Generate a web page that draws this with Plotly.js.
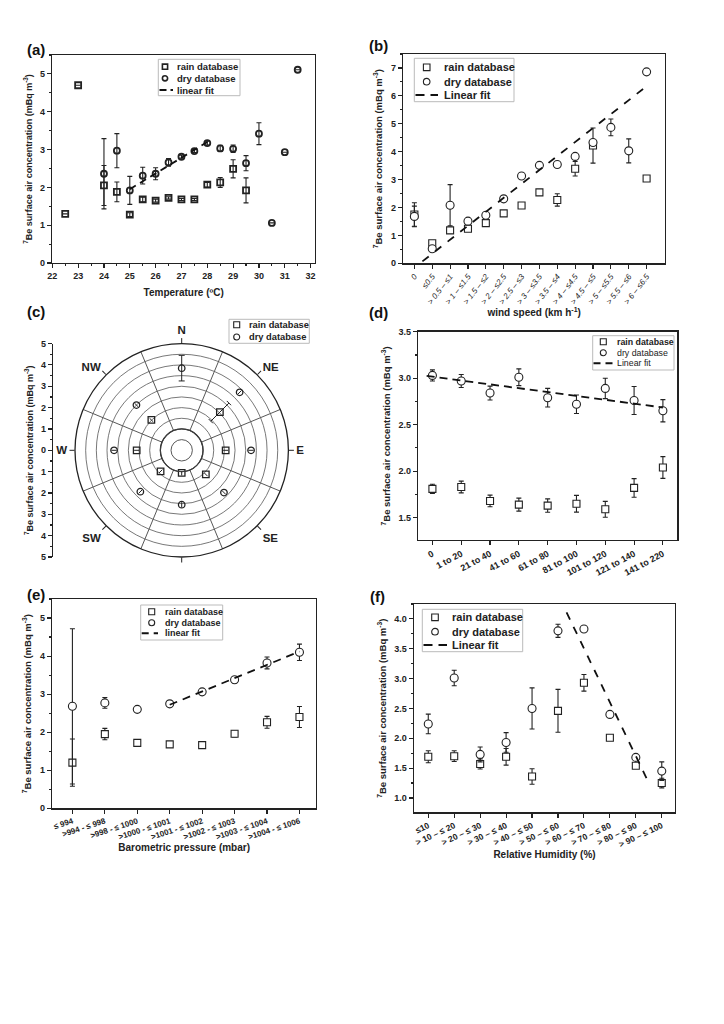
<!DOCTYPE html>
<html><head><meta charset="utf-8">
<script src="https://cdn.plot.ly/plotly-3.0.1.min.js"></script>
<style>body{margin:0;background:#fff}#chart{width:724px;height:1024px}</style>
</head><body><div id="chart"></div>
<script>
// ---------- DATA ----------
// (a) Temperature
const tempA = [22.5,23,24,24.5,25,25.5,26,26.5,27,27.5,28,28.5,29,29.5,30,30.5,31,31.5];
const rainA = [1.30,4.70,2.05,1.88,1.28,1.68,1.65,1.72,1.68,1.68,2.07,2.13,2.49,1.92,null,null,null,null];
const rainAErr = [0,0,0.53,0.26,0.05,0.06,0.04,0.03,0.03,0.03,0.06,0.13,0.24,0.33,0,0,0,0];
const dryA = [null,null,2.36,2.97,1.92,2.31,2.36,2.66,2.81,2.96,3.17,3.03,3.02,2.64,3.42,1.06,2.93,5.11];
const dryAErr = [0,0,0.93,0.45,0.37,0.22,0.16,0.1,0.04,0.04,0.05,0.08,0.1,0.2,0.29,0,0,0];
const fitAX = [25,28];
const fitAY = [1.95,3.20];

// (b) Wind speed
const windCats = ["0","≤0.5","> 0.5 – ≤1","> 1 – ≤1.5","> 1.5 – ≤2","> 2 – ≤2.5","> 2.5 – ≤3","> 3 – ≤3.5","> 3.5 – ≤4","> 4 – ≤4.5","> 4.5 – ≤5","> 5 – ≤5.5","> 5.5 – ≤6","> 6 – ≤6.5"];
const rainB = [1.75,0.72,1.18,1.24,1.44,1.79,2.07,2.54,2.27,3.39,4.22,null,null,3.04];
const rainBErr = [0.42,0.05,0.1,0.04,0.05,0.04,0.04,0.06,0.22,0.26,0.63,0,0,0.04];
const dryB = [1.68,0.52,2.08,1.51,1.72,2.31,3.13,3.51,3.54,3.83,4.33,4.87,4.03,6.86];
const dryBErr = [0.37,0.04,0.74,0.04,0.05,0.05,0.05,0.05,0.04,0.05,0.05,0.3,0.43,0.05];
const fitBX = [0.45,13.15];
const fitBY = [0.07,6.42];

// (c) Wind direction
const dirLabels = ["N","NE","E","SE","","SW","W","NW"];
const dirAngles = [0,45,90,135,180,225,270,315];
const sectorEdges = [22.5,67.5,112.5,157.5,202.5,247.5,292.5,337.5];
const rainC = [null,2.53,2.06,1.60,1.06,1.40,2.11,2.01];
const rainCErr = [0,0.6,0.12,0.12,0.12,0.12,0.12,0.12];
const dryC = [3.85,3.84,3.25,2.80,2.55,2.74,3.17,3.00];
const dryCErr = [0.6,0.12,0.12,0.12,0.12,0.12,0.12,0.12];
const radialTicks = [-5,-4,-3,-2,-1,0,1,2,3,4,5];

// (d) Distance classes
const distCats = ["0","1 to 20","21 to 40","41 to 60","61 to 80","81 to 100","101 to 120","121 to 140","141 to 220"];
const rainD = [1.81,1.83,1.68,1.64,1.63,1.65,1.59,1.82,2.04];
const rainDErr = [0.05,0.063,0.063,0.07,0.072,0.09,0.085,0.1,0.117];
const dryD = [3.03,2.97,2.84,3.01,2.79,2.72,2.89,2.76,2.65];
const dryDErr = [0.06,0.07,0.075,0.09,0.1,0.1,0.11,0.15,0.12];
const fitDX = [-0.2,8.0];
const fitDY = [3.025,2.685];

// (e) Barometric pressure
const pressCats = ["≤ 994",">994 - ≤ 998",">998 - ≤ 1000",">1000 - ≤ 1001",">1001 - ≤ 1002",">1002 - ≤ 1003",">1003 - ≤ 1004",">1004 - ≤ 1006"];
const rainE = [1.20,1.95,1.72,1.68,1.66,1.96,2.26,2.40];
const rainEErr = [0.62,0.15,0.04,0.04,0.03,0.085,0.155,0.275];
const dryE = [2.68,2.77,2.60,2.745,3.06,3.38,3.82,4.10];
const dryEErr = [2.04,0.14,0.04,0.04,0.04,0.085,0.155,0.215];
const fitEX = [3,7];
const fitEY = [2.72,4.12];

// (f) Relative humidity
const humCats = ["≤10","> 10 – ≤ 20","> 20 – ≤ 30","> 30 – ≤ 40","> 40 – ≤ 50","> 50 – ≤ 60","> 60 – ≤ 70","> 70 – ≤ 80","> 80 – ≤ 90","> 90 – ≤ 100"];
const rainF = [1.69,1.70,1.57,1.69,1.36,2.46,2.93,2.01,1.54,1.25];
const rainFErr = [0.1,0.09,0.085,0.14,0.13,0.36,0.14,0.03,0.03,0.08];
const dryF = [2.24,3.01,1.73,1.93,2.50,3.80,3.83,2.40,1.68,1.45];
const dryFErr = [0.165,0.13,0.125,0.165,0.345,0.11,0.02,0.02,0.03,0.155];
const fitFX = [5.33,8.48];
const fitFY = [4.11,1.27];

// ---------- HELPERS ----------
const FONT = 'Liberation Sans, Arial, sans-serif';
const INK = '#222';
const W = 724, H = 1024;
const px = x => x / W;
const py = y => 1 - y / H;
const domX = (a, b) => [a / W, b / W];
const domY = (top, bottom) => [1 - bottom / H, 1 - top / H];
const idx = arr => arr.map((_, i) => i);
const YT = '<sup>7</sup>Be surface air concentration (mBq m<sup>-3</sup>)';

function ax(extra) {
  return Object.assign({
    showline: true, linecolor: INK, linewidth: 1.4, mirror: true,
    ticks: 'outside', ticklen: 4, tickwidth: 1.1, tickcolor: INK,
    showgrid: false, zeroline: false,
    tickfont: {family: FONT, size: 9, color: INK, weight: 'bold'}
  }, extra);
}
function ttl(text, size, standoff) {
  return {text: text, font: {family: FONT, size: size, color: INK, weight: 'bold'}, standoff: standoff};
}
function pts(x, y, err, sym, size, xa, ya, lw, name, fill) {
  return {
    type: 'scatter', mode: 'markers', x: x, y: y, xaxis: xa, yaxis: ya, name: name, showlegend: false,
    marker: {symbol: sym, size: size, color: fill, line: {color: INK, width: lw}},
    error_y: {type: 'data', array: err, visible: true, thickness: 1.1, width: 2.5, color: INK},
    cliponaxis: false
  };
}
function fit(x, y, xa, ya, w, dash) {
  return {type: 'scatter', mode: 'lines', x: x, y: y, xaxis: xa, yaxis: ya, showlegend: false, name: 'linear fit',
    line: {color: '#111', width: w, dash: dash}};
}

// manual legends
const shapes = [], annotations = [];
function legend(spec) {
  const b = spec.box;
  shapes.push({type: 'rect', xref: 'paper', yref: 'paper', x0: px(b[0]), x1: px(b[2]), y0: py(b[3]), y1: py(b[1]),
    line: {color: '#bbb', width: 1}, fillcolor: 'rgba(255,255,255,0.9)', layer: 'above'});
  spec.rows.forEach(r => {
    const s = spec.half;
    if (r.kind === 'square' || r.kind === 'circle') {
      shapes.push({type: r.kind === 'square' ? 'rect' : 'circle', xref: 'paper', yref: 'paper',
        x0: px(spec.symX - s), x1: px(spec.symX + s), y0: py(r.y + s), y1: py(r.y - s),
        line: {color: INK, width: spec.lw}, fillcolor: '#fff', layer: 'above'});
    } else {
      shapes.push({type: 'line', xref: 'paper', yref: 'paper', x0: px(spec.dash[0]), x1: px(spec.dash[1]), y0: py(r.y), y1: py(r.y),
        line: {color: '#111', width: 2, dash: spec.dashPat}, layer: 'above'});
    }
    annotations.push({xref: 'paper', yref: 'paper', x: px(spec.textX), y: py(r.y), xanchor: 'left', yanchor: 'middle',
      showarrow: false, text: r.text,
      font: {family: FONT, size: spec.size, color: INK, weight: r.bold === false ? 'normal' : 'bold'}});
  });
}
function panelLabel(t, x, y) {
  annotations.push({xref: 'paper', yref: 'paper', x: px(x), y: py(y), xanchor: 'center', yanchor: 'middle',
    showarrow: false, text: t, font: {family: FONT, size: 15, color: '#111', weight: 'bold'}});
}

// polar error segments (radial bars with perpendicular caps)
const RPX = 106.7, PXU = RPX / 5;
function radialBars(vals, errs, thetas, capPx) {
  const r = [], t = [];
  vals.forEach((v, i) => {
    const e = errs[i];
    if (v == null || !e) return;
    const th = thetas[i];
    r.push(v - e, v + e, null); t.push(th, th, null);
    if (e > 0.3) {
      [v - e, v + e].forEach(re => {
        const w = capPx / PXU;
        const d = Math.atan(w / re) * 180 / Math.PI;
        const rr = Math.sqrt(re * re + w * w);
        r.push(rr, rr, null); t.push(th - d, th + d, null);
      });
    }
  });
  return {r: r, t: t};
}

// ---------- TRACES ----------
const traces = [];
// (a)
traces.push(pts(tempA, rainA, rainAErr, 'square-open', 6, 'x', 'y', 1.8, 'rain database', INK));
traces.push(pts(tempA, dryA, dryAErr, 'circle-open', 6, 'x', 'y', 1.8, 'dry database', INK));
traces.push(fit(fitAX, fitAY, 'x', 'y', 1.8, '7px,5px'));
// (b)
traces.push(pts(idx(windCats), rainB, rainBErr, 'square', 7, 'x2', 'y2', 1.1, 'rain database', '#fff'));
traces.push(pts(idx(windCats), dryB, dryBErr, 'circle', 8, 'x2', 'y2', 1.1, 'dry database', '#fff'));
traces.push(fit(fitBX, fitBY, 'x2', 'y2', 1.8, '8px,8px'));
// (d)
traces.push(pts(idx(distCats), rainD, rainDErr, 'square', 7, 'x3', 'y3', 1.1, 'rain database', '#fff'));
traces.push(pts(idx(distCats), dryD, dryDErr, 'circle', 8, 'x3', 'y3', 1.1, 'dry database', '#fff'));
traces.push(fit(fitDX, fitDY, 'x3', 'y3', 1.8, '8px,5px'));
// (e)
traces.push(pts(idx(pressCats), rainE, rainEErr, 'square', 7, 'x4', 'y4', 1.1, 'rain database', '#fff'));
traces.push(pts(idx(pressCats), dryE, dryEErr, 'circle', 8, 'x4', 'y4', 1.1, 'dry database', '#fff'));
traces.push(fit(fitEX, fitEY, 'x4', 'y4', 1.8, '8px,6px'));
// (f)
traces.push(pts(idx(humCats), rainF, rainFErr, 'square', 7, 'x5', 'y5', 1.1, 'rain database', '#fff'));
traces.push(pts(idx(humCats), dryF, dryFErr, 'circle', 8, 'x5', 'y5', 1.1, 'dry database', '#fff'));
traces.push(fit(fitFX, fitFY, 'x5', 'y5', 1.8, '8px,8px'));
// (c) left radial scale helper (invisible point)
traces.push({type: 'scatter', mode: 'markers', x: [0], y: [0], xaxis: 'x6', yaxis: 'y6', showlegend: false,
  marker: {opacity: 0}, hoverinfo: 'skip'});
// (c) polar grid subplot (invisible anchor point so the grid polar is drawn)
traces.push({type: 'scatterpolar', subplot: 'polar', mode: 'markers', r: [3], theta: [0], marker: {opacity: 0},
  showlegend: false, hoverinfo: 'skip'});
const rb = radialBars(rainC, rainCErr, dirAngles, 3);
const db = radialBars(dryC, dryCErr, dirAngles, 3);
traces.push({type: 'scatterpolar', subplot: 'polar2', mode: 'lines', r: rb.r.concat([null], db.r), theta: rb.t.concat([null], db.t),
  line: {color: INK, width: 1}, showlegend: false, connectgaps: false, cliponaxis: false, hoverinfo: 'skip'});
traces.push({type: 'scatterpolar', subplot: 'polar2', mode: 'markers', r: rainC, theta: dirAngles, name: 'rain database',
  marker: {symbol: 'square-open', size: 6.5, color: INK, line: {color: INK, width: 1.3}}, showlegend: false, cliponaxis: false});
traces.push({type: 'scatterpolar', subplot: 'polar2', mode: 'markers', r: dryC, theta: dirAngles, name: 'dry database',
  marker: {symbol: 'circle-open', size: 6.5, color: INK, line: {color: INK, width: 1.3}}, showlegend: false, cliponaxis: false});

// ---------- LAYOUT ----------
const polarDomX = domX(75, 288.4), polarDomY = domY(343.6, 557.0);
const layout = {
  width: W, height: H, margin: {l: 0, r: 0, t: 0, b: 0}, paper_bgcolor: '#fff', plot_bgcolor: '#fff',
  showlegend: false, font: {family: FONT, color: INK},
  // (a)
  xaxis: ax({domain: domX(52.3, 315), range: [22, 32.17], dtick: 1, anchor: 'y',
    minor: {ticks: 'outside', ticklen: 2, dtick: 0.5, tickcolor: INK}, title: ttl('Temperature (ºC)', 10, 8)}),
  yaxis: ax({domain: domY(55, 263), range: [0, 5.5], dtick: 1, anchor: 'x',
    minor: {ticks: 'outside', ticklen: 2, dtick: 0.5, tickcolor: INK}, title: ttl(YT, 9, 6)}),
  // (b)
  xaxis2: ax({domain: domX(403.3, 665), range: [-0.62, 14.03], tickmode: 'array', tickvals: idx(windCats), ticktext: windCats,
    tickangle: -52, anchor: 'y2', tickfont: {family: FONT, size: 8, color: INK, style: 'italic'},
    title: ttl('wind speed (km h<sup>-1</sup>)', 10, 2)}),
  yaxis2: ax({domain: domY(54, 263.3), range: [0, 7.5], dtick: 1, anchor: 'x2',
    minor: {ticks: 'outside', ticklen: 2, dtick: 0.5, tickcolor: INK}, title: ttl(YT, 9.5, 6)}),
  // (d)
  xaxis3: ax({domain: domX(418.3, 677.3), range: [-0.49, 8.5], tickmode: 'array', tickvals: idx(distCats), ticktext: distCats,
    tickangle: -28, anchor: 'y3'}),
  yaxis3: ax({domain: domY(331.7, 540), range: [1.26, 3.5], dtick: 0.5, tickformat: '.1f', anchor: 'x3',
    minor: {ticks: 'outside', ticklen: 2, dtick: 0.25, tickcolor: INK}, title: ttl(YT, 9.5, 6)}),
  // (e)
  xaxis4: ax({domain: domX(52.3, 316), range: [-0.62, 7.51], tickmode: 'array', tickvals: idx(pressCats), ticktext: pressCats,
    tickangle: -18, anchor: 'y4', tickfont: {family: FONT, size: 8, color: INK, weight: 'bold'},
    title: ttl('Barometric pressure (mbar)', 10, 2)}),
  yaxis4: ax({domain: domY(599, 808.3), range: [0, 5.5], dtick: 1, anchor: 'x4',
    minor: {ticks: 'outside', ticklen: 2, dtick: 0.5, tickcolor: INK}, title: ttl(YT, 9.5, 6)}),
  // (f)
  xaxis5: ax({domain: domX(414, 675), range: [-0.55, 9.51], tickmode: 'array', tickvals: idx(humCats), ticktext: humCats,
    tickangle: -25, anchor: 'y5', tickfont: {family: FONT, size: 8.5, color: INK, weight: 'bold'},
    title: ttl('Relative Humidity (%)', 10, 2)}),
  yaxis5: ax({domain: domY(604, 812.3), range: [0.76, 4.25], dtick: 0.5, tickformat: '.1f', anchor: 'x5',
    minor: {ticks: 'outside', ticklen: 2, dtick: 0.25, tickcolor: INK}, title: ttl(YT, 9.5, 6)}),
  // (c) left radial scale
  xaxis6: {domain: domX(53.3, 54), visible: false, range: [0, 1], anchor: 'y6'},
  yaxis6: {domain: polarDomY, range: [-5, 5], anchor: 'x6', tickmode: 'array', tickvals: radialTicks,
    ticktext: radialTicks.map(v => String(Math.abs(v))), showline: true, linecolor: INK, linewidth: 1.4,
    ticks: 'outside', ticklen: 4, tickwidth: 1.1, tickcolor: INK, showgrid: false, zeroline: false,
    minor: {ticks: 'outside', ticklen: 2, dtick: 0.5, tickcolor: INK},
    tickfont: {family: FONT, size: 9, color: INK, weight: 'bold'}, title: ttl(YT, 9, 6)},
  polar: {domain: {x: polarDomX, y: polarDomY}, bgcolor: '#fff', hole: 0.2,
    radialaxis: {range: [1, 5], tick0: 1, dtick: 0.5, showgrid: true, gridcolor: '#555', gridwidth: 0.8,
      showline: false, showticklabels: false, ticks: ''},
    angularaxis: {rotation: 90, direction: 'clockwise', tickmode: 'array', tickvals: sectorEdges, showticklabels: false,
      ticks: '', showgrid: true, gridcolor: '#444', gridwidth: 0.9, showline: true, linecolor: INK, linewidth: 1.3}},
  polar2: {domain: {x: polarDomX, y: polarDomY}, bgcolor: 'rgba(0,0,0,0)', hole: 0.2,
    radialaxis: {range: [1, 5], visible: false},
    angularaxis: {rotation: 90, direction: 'clockwise', tickmode: 'array', tickvals: dirAngles, ticktext: dirLabels,
      ticks: 'outside', ticklen: 5, tickcolor: INK, showgrid: false, showline: false,
      tickfont: {family: FONT, size: 11.5, color: INK, weight: 'bold'}}},
  shapes: shapes, annotations: annotations
};

// hub rings of the polar (paper-space decoration)
const CX = 181.7, CY = 450.3;
[PXU * 1.0, PXU * 0.5].forEach(rr => shapes.push({type: 'circle', xref: 'paper', yref: 'paper',
  x0: px(CX - rr), x1: px(CX + rr), y0: py(CY + rr), y1: py(CY - rr), line: {color: '#444', width: 0.9}, layer: 'above'}));

// legends
legend({box: [158.3, 59.3, 240, 95.7], symX: 165, textX: 175, half: 2.6, lw: 1.6, size: 9.5, dash: [159.5, 173], dashPat: '7px,4px',
  rows: [{kind: 'square', text: 'rain database', y: 66.7}, {kind: 'circle', text: 'dry database', y: 78.3}, {kind: 'dash', text: 'linear fit', y: 90}]});
legend({box: [414.3, 58.3, 514, 101.7], symX: 426.7, textX: 442, half: 3.3, lw: 1.1, size: 11, dash: [415.5, 438], dashPat: '9px,6px',
  rows: [{kind: 'square', text: 'rain database', y: 67.3}, {kind: 'circle', text: 'dry database', y: 81.7}, {kind: 'dash', text: 'Linear fit', y: 95}]});
legend({box: [229, 319.3, 309.3, 343.3], symX: 236.7, textX: 247, half: 3, lw: 1.1, size: 9.3, dash: [0, 0], dashPat: 'dash',
  rows: [{kind: 'square', text: 'rain database', y: 324.8}, {kind: 'circle', text: 'dry database', y: 337}]});
legend({box: [592.7, 335.7, 674, 370], symX: 603.3, textX: 615, half: 3, lw: 1.1, size: 8.8, dash: [593.5, 614], dashPat: '7px,5px',
  rows: [{kind: 'square', text: 'rain database', y: 341.7}, {kind: 'circle', text: 'dry database', y: 352.7, bold: false},
    {kind: 'dash', text: 'Linear fit', y: 363.3, bold: false}]});
legend({box: [140.7, 605, 222.7, 640], symX: 151.7, textX: 163, half: 3, lw: 1.1, size: 9, dash: [141.7, 158], dashPat: '7px,5px',
  rows: [{kind: 'square', text: 'rain database', y: 611.7}, {kind: 'circle', text: 'dry database', y: 622.7}, {kind: 'dash', text: 'linear fit', y: 633.3}]});
legend({box: [422.3, 609.3, 522.7, 651.7], symX: 435, textX: 450.5, half: 3.3, lw: 1.1, size: 11, dash: [423.5, 447], dashPat: '9px,6px',
  rows: [{kind: 'square', text: 'rain database', y: 617.3}, {kind: 'circle', text: 'dry database', y: 631.7}, {kind: 'dash', text: 'Linear fit', y: 645}]});

panelLabel('(a)', 36, 49);
panelLabel('(b)', 378, 45);
panelLabel('(c)', 36, 311);
panelLabel('(d)', 378, 312);
panelLabel('(e)', 36, 594);
panelLabel('(f)', 377, 596);

Plotly.newPlot('chart', traces, layout, {staticPlot: true});
</script>
</body></html>
